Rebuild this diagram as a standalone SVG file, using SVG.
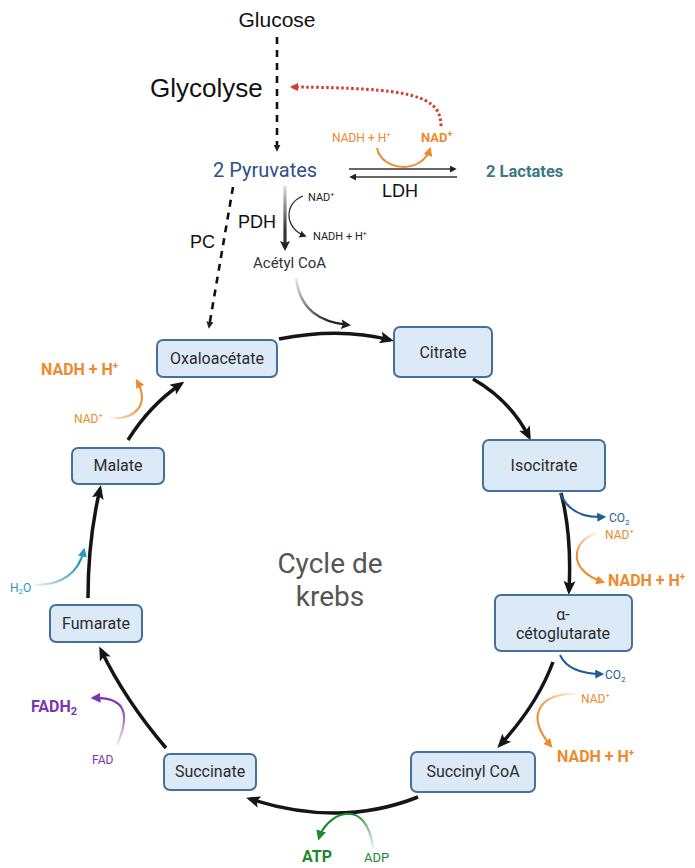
<svg xmlns="http://www.w3.org/2000/svg" width="695" height="868" viewBox="0 0 695 868">
<style>
.box{fill:#dce9f7;stroke:#44709a;stroke-width:2}
.lbl{font-family:Roboto,"Liberation Sans",sans-serif;font-size:16px;fill:#2b2b2b;text-anchor:middle}
.cal{font-family:"Liberation Sans",Arial,sans-serif;fill:#111}
.rob{font-family:Roboto,"Liberation Sans",sans-serif}
.cyc{fill:none;stroke:#151515;stroke-width:3.5;marker-end:url(#mBig)}
.org{fill:#ee8a2c}
.orgl{fill:none;stroke:#ee8a2c;stroke-width:2;marker-end:url(#mOrg)}
.bluel{fill:none;stroke:#1f5c99;stroke-width:2;marker-end:url(#mBlue)}
.blue{fill:#1f5c99}
</style>
<defs>
<marker id="mBig" viewBox="0 0 14 12" markerWidth="14" markerHeight="12" refX="10" refY="6" orient="auto" markerUnits="userSpaceOnUse"><path d="M0,0 L14,6 L0,12 L3,6 Z" fill="#151515"/></marker>
<marker id="mBlk" viewBox="0 0 10 10" markerWidth="10" markerHeight="10" refX="7" refY="5" orient="auto" markerUnits="userSpaceOnUse"><path d="M0,0 L10,5 L0,10 L2,5 Z" fill="#222"/></marker>
<marker id="mSm" viewBox="0 0 8 8" markerWidth="7" markerHeight="7" refX="6" refY="4" orient="auto" markerUnits="userSpaceOnUse"><path d="M0,0 L8,4 L0,8 Z" fill="#222"/></marker>
<marker id="mRed" viewBox="0 0 8 8" markerWidth="8" markerHeight="8" refX="6" refY="4" orient="auto" markerUnits="userSpaceOnUse"><path d="M0,0 L8,4 L0,8 Z" fill="#d43a2f"/></marker>
<marker id="mOrg" viewBox="0 0 8 8" markerWidth="9" markerHeight="9" refX="6" refY="4" orient="auto" markerUnits="userSpaceOnUse"><path d="M0,0 L8,4 L0,8 Z" fill="#ee8a2c"/></marker>
<marker id="mBlue" viewBox="0 0 8 8" markerWidth="9" markerHeight="9" refX="6" refY="4" orient="auto" markerUnits="userSpaceOnUse"><path d="M0,0 L8,4 L0,8 Z" fill="#1f5c99"/></marker>
<marker id="mGrn" viewBox="0 0 8 8" markerWidth="10" markerHeight="10" refX="6" refY="4" orient="auto" markerUnits="userSpaceOnUse"><path d="M0,0 L8,4 L0,8 Z" fill="#1a8a2a"/></marker>
<marker id="mPur" viewBox="0 0 8 8" markerWidth="10" markerHeight="10" refX="6" refY="4" orient="auto" markerUnits="userSpaceOnUse"><path d="M0,0 L8,4 L0,8 Z" fill="#7a35b0"/></marker>
<marker id="mTeal" viewBox="0 0 8 8" markerWidth="9" markerHeight="9" refX="6" refY="4" orient="auto" markerUnits="userSpaceOnUse"><path d="M0,0 L8,4 L0,8 Z" fill="#2a97b8"/></marker>
<linearGradient id="gPdh" gradientUnits="userSpaceOnUse" x1="0" y1="185" x2="0" y2="230"><stop offset="0" stop-color="#333" stop-opacity="0.15"/><stop offset="1" stop-color="#333"/></linearGradient>
<linearGradient id="gAce" gradientUnits="userSpaceOnUse" x1="296" y1="278" x2="330" y2="322"><stop offset="0" stop-color="#222" stop-opacity="0.1"/><stop offset="1" stop-color="#222"/></linearGradient>
<linearGradient id="gAdp" gradientUnits="userSpaceOnUse" x1="373" y1="848" x2="350" y2="814"><stop offset="0" stop-color="#1a8a2a" stop-opacity="0.1"/><stop offset="1" stop-color="#1a8a2a"/></linearGradient>
<linearGradient id="gFad" gradientUnits="userSpaceOnUse" x1="117" y1="745" x2="125" y2="705"><stop offset="0" stop-color="#7a35b0" stop-opacity="0.1"/><stop offset="1" stop-color="#7a35b0"/></linearGradient>
<linearGradient id="gH2o" gradientUnits="userSpaceOnUse" x1="35" y1="585" x2="80" y2="565"><stop offset="0" stop-color="#2a97b8" stop-opacity="0.1"/><stop offset="1" stop-color="#2a97b8"/></linearGradient>
<linearGradient id="gNadL" gradientUnits="userSpaceOnUse" x1="110" y1="418" x2="142" y2="410"><stop offset="0" stop-color="#ee8a2c" stop-opacity="0.1"/><stop offset="1" stop-color="#ee8a2c"/></linearGradient>
<linearGradient id="gNad1" gradientUnits="userSpaceOnUse" x1="597" y1="533" x2="576" y2="555"><stop offset="0" stop-color="#ee8a2c" stop-opacity="0.1"/><stop offset="1" stop-color="#ee8a2c"/></linearGradient>
<linearGradient id="gNad2" gradientUnits="userSpaceOnUse" x1="576" y1="694" x2="540" y2="712"><stop offset="0" stop-color="#ee8a2c" stop-opacity="0.1"/><stop offset="1" stop-color="#ee8a2c"/></linearGradient>
</defs>

<g id="connectors">
<path d="M277,37 L277,150" fill="none" stroke="#111" stroke-width="2.6" stroke-dasharray="7,6" marker-end="url(#mSm)"/>
<path d="M441,126 C441,95 410,88 292,87" fill="none" stroke="#d43a2f" stroke-width="3" stroke-dasharray="2.5,2.5" marker-end="url(#mRed)"/>
<path d="M377,148 C382,172 422,174 430,149" class="orgl" stroke-width="1.8"/>
<path d="M349,169 L455,169" fill="none" stroke="#333" stroke-width="1.6" marker-end="url(#mSm)"/>
<path d="M457,177 L351,177" fill="none" stroke="#333" stroke-width="1.6" marker-end="url(#mSm)"/>
<path d="M285,186 L285,248" fill="none" stroke="url(#gPdh)" stroke-width="3.2" marker-end="url(#mBlk)"/>
<path d="M303,196 C284,203 284,228 305,236" fill="none" stroke="#222" stroke-width="1.2" marker-end="url(#mSm)"/>
<path d="M233,187 L209,327" fill="none" stroke="#111" stroke-width="2.6" stroke-dasharray="7,6" marker-end="url(#mSm)"/>
<path d="M296,278 C300,310 320,322 348,325" fill="none" stroke="url(#gAce)" stroke-width="2.4" marker-end="url(#mBlk)"/>
<path d="M279,339 Q340,327 390,340" class="cyc"/>
<path d="M473,379 Q510,400 529,437" class="cyc"/>
<path d="M561,493 Q572,535 569,591" class="cyc"/>
<path d="M553,662 Q537,705 500,745" class="cyc"/>
<path d="M418,797 Q340,828 250,799" class="cyc"/>
<path d="M166,748 Q125,700 101,650" class="cyc"/>
<path d="M88,598 Q88,540 100,489" class="cyc"/>
<path d="M128,440 Q150,405 181,384" class="cyc"/>
<path d="M560,493 C568,512 585,518 604,517" class="bluel"/>
<path d="M597,533 C572,540 566,570 603,582" fill="none" stroke="url(#gNad1)" stroke-width="2" marker-end="url(#mOrg)"/>
<path d="M560,655 C566,668 582,674 602,674" class="bluel"/>
<path d="M576,694 C545,692 522,712 551,746" fill="none" stroke="url(#gNad2)" stroke-width="2" marker-end="url(#mOrg)"/>
<path d="M373,848 C370,822 358,812 345,814 C332,816 322,828 319,838" fill="none" stroke="url(#gAdp)" stroke-width="2.2" marker-end="url(#mGrn)"/>
<path d="M117,745 C130,715 127,697 93,698" fill="none" stroke="url(#gFad)" stroke-width="2.2" marker-end="url(#mPur)"/>
<path d="M35,585 C60,585 78,575 84,550" fill="none" stroke="url(#gH2o)" stroke-width="2.2" marker-end="url(#mTeal)"/>
<path d="M110,418 C135,420 150,405 137,381" fill="none" stroke="url(#gNadL)" stroke-width="2" marker-end="url(#mOrg)"/>
</g>

<g id="top-labels">
<text class="cal" x="277" y="27" font-size="21" text-anchor="middle">Glucose</text>
<text class="cal" x="150" y="97" font-size="26">Glycolyse</text>
<text class="rob org" x="332" y="142" font-size="12">NADH + H<tspan font-size="8" dy="-5">+</tspan></text>
<text class="rob org" x="421" y="142" font-size="13" font-weight="bold">NAD<tspan font-size="9" dy="-5">+</tspan></text>
<text class="rob" x="213" y="177" font-size="20" fill="#2f5088">2 Pyruvates</text>
<text class="rob" x="486" y="177" font-size="16.5" font-weight="bold" fill="#3a7a7e">2 Lactates</text>
<text class="cal" x="382" y="197" font-size="18">LDH</text>
<text class="cal" x="238" y="228" font-size="18">PDH</text>
<text class="cal" x="190" y="248" font-size="18">PC</text>
<text class="rob" x="308" y="201" font-size="11" fill="#222">NAD<tspan font-size="7" dy="-4">+</tspan></text>
<text class="rob" x="313" y="240" font-size="11" fill="#222">NADH + H<tspan font-size="7" dy="-4">+</tspan></text>
<text class="rob" x="253" y="268" font-size="15" fill="#333">Acétyl CoA</text>
</g>

<g id="cycle-labels">
<text class="rob" x="330" y="573" font-size="28" fill="#555" text-anchor="middle">Cycle de</text>
<text class="rob" x="330" y="606" font-size="28" fill="#555" text-anchor="middle">krebs</text>
<text class="rob blue" x="609" y="522" font-size="12">CO<tspan font-size="8" dy="3">2</tspan></text>
<text class="rob org" x="605" y="539" font-size="12">NAD<tspan font-size="8" dy="-5">+</tspan></text>
<text class="rob org" x="608" y="586" font-size="16" font-weight="bold">NADH + H<tspan font-size="10" dy="-6">+</tspan></text>
<text class="rob blue" x="605" y="679" font-size="12">CO<tspan font-size="8" dy="3">2</tspan></text>
<text class="rob org" x="581" y="703" font-size="12">NAD<tspan font-size="8" dy="-5">+</tspan></text>
<text class="rob org" x="557" y="762" font-size="16" font-weight="bold">NADH + H<tspan font-size="10" dy="-6">+</tspan></text>
<text class="rob" x="302" y="862" font-size="16" font-weight="bold" fill="#1a8a2a">ATP</text>
<text class="rob" x="364" y="862" font-size="13" fill="#1a8a2a">ADP</text>
<text class="rob" x="31" y="712" font-size="16" font-weight="bold" fill="#7a35b0">FADH<tspan font-size="11" dy="3">2</tspan></text>
<text class="rob" x="92" y="764" font-size="12" fill="#7a35b0">FAD</text>
<text class="rob" x="10" y="592" font-size="12" fill="#2a97b8">H<tspan font-size="8" dy="2">2</tspan><tspan dy="-2">O</tspan></text>
<text class="rob org" x="74" y="423" font-size="12">NAD<tspan font-size="8" dy="-5">+</tspan></text>
<text class="rob org" x="41" y="375" font-size="16" font-weight="bold">NADH + H<tspan font-size="10" dy="-6">+</tspan></text>
</g>

<g id="oxaloacetate"><rect class="box" x="157" y="340" width="120" height="37" rx="6"/><text class="lbl" x="217" y="364">Oxaloacétate</text></g>
<g id="citrate"><rect class="box" x="394" y="327" width="98" height="50" rx="6"/><text class="lbl" x="443" y="358">Citrate</text></g>
<g id="isocitrate"><rect class="box" x="483" y="440" width="122" height="51" rx="6"/><text class="lbl" x="544" y="471">Isocitrate</text></g>
<g id="alpha-cetoglutarate"><rect class="box" x="495" y="595" width="137" height="56" rx="6"/><text class="lbl" x="563" y="620">α-</text><text class="lbl" x="563" y="639">cétoglutarate</text></g>
<g id="succinyl-coa"><rect class="box" x="411" y="752" width="124" height="40" rx="6"/><text class="lbl" x="473" y="777">Succinyl CoA</text></g>
<g id="succinate"><rect class="box" x="164" y="754" width="92" height="36" rx="6"/><text class="lbl" x="210" y="777">Succinate</text></g>
<g id="fumarate"><rect class="box" x="50" y="605" width="92" height="37" rx="6"/><text class="lbl" x="96" y="629">Fumarate</text></g>
<g id="malate"><rect class="box" x="72" y="448" width="92" height="36" rx="6"/><text class="lbl" x="118" y="471">Malate</text></g>
</svg>
